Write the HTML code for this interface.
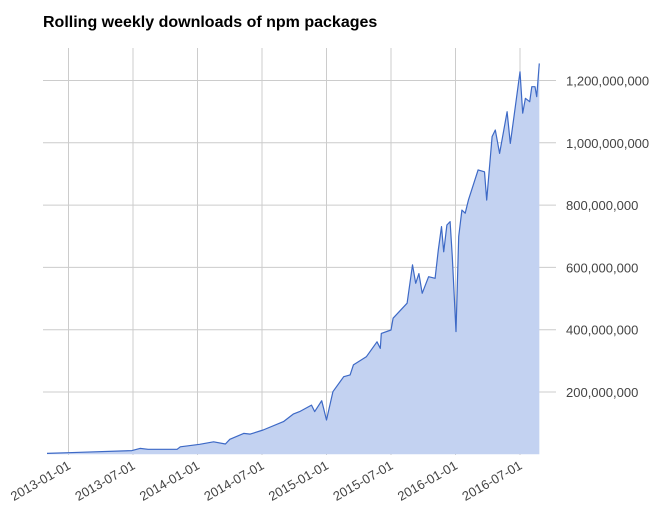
<!DOCTYPE html>
<html>
<head>
<meta charset="utf-8">
<style>
  html,body{margin:0;padding:0;background:#fff;}
  body{width:671px;height:526px;overflow:hidden;}
  svg{display:block;font-family:"Liberation Sans",Arial,sans-serif;}
</style>
</head>
<body>
<svg id="chart" width="671" height="526" viewBox="0 0 671 526" xmlns="http://www.w3.org/2000/svg">
  <text x="43" y="27" font-size="16" font-weight="bold" fill="#000">Rolling weekly downloads of npm packages</text>
  <g id="grid"></g>
  <g id="series"></g>
  <g id="yaxis"></g>
  <g id="xaxis"></g>
</svg>
<script>
// months since 2013-01-01
const months = [-2.0,0,5.9,6.65,7.4,10.1,10.4,12.2,13.5,14.6,15,16.3,16.9,18.1,20,20.9,21.5,22.6,22.9,23.55,24,24.6,25.6,26.2,26.5,27.7,28.7,29,29.1,30,30.2,31.5,32,32.3,32.6,32.9,33.5,34.1,34.4,34.7,34.9,35.2,35.5,35.7,36.05,36.3,36.6,36.9,37.2,37.7,38.1,38.7,38.9,39.4,39.7,40.1,40.8,41.1,41.4,42,42.25,42.5,42.9,43.1,43.4,43.55,43.8];
// downloads in millions
const values = [3,5,12,19,16,16,24,32,40,33,48,67,65,78,105,129,137,158,137,172,110,201,249,255,287,313,361,340,388,399,437,485,608,549,580,517,570,565,656,731,650,736,747,634,394,699,784,774,816,870,913,907,816,1020,1041,966,1100,998,1073,1228,1095,1143,1132,1180,1180,1148,1255];
const yTicks = [200,400,600,800,1000,1200];
const yTickLabels = ["200,000,000","400,000,000","600,000,000","800,000,000","1,000,000,000","1,200,000,000"];
const xTicks = [0,6,12,18,24,30,36,42];
const xTickLabels = ["2013-01-01","2013-07-01","2014-01-01","2014-07-01","2015-01-01","2015-07-01","2016-01-01","2016-07-01"];

const NS="http://www.w3.org/2000/svg";
const x = m => 68.5 + m*10.75;
const y = v => 454.3 - v*0.3115;
function mk(tag, attrs, parent){const e=document.createElementNS(NS,tag);for(const k in attrs)e.setAttribute(k,attrs[k]);parent.appendChild(e);return e;}
const grid=document.getElementById('grid'), series=document.getElementById('series'), ya=document.getElementById('yaxis'), xa=document.getElementById('xaxis');

yTicks.forEach((t,i)=>{
  const l=mk('line',{x1:43,x2:556,y1:y(t),y2:y(t),stroke:'#cccccc','stroke-width':1},grid);
  
  
  const tx=mk('text',{x:566,y:y(t)+5,'font-size':13,fill:'#444'},ya);
  tx.textContent=yTickLabels[i];
  
  
});
xTicks.forEach((t,i)=>{
  const l=mk('line',{x1:x(t),x2:x(t),y1:48,y2:455,stroke:'#cccccc','stroke-width':1},grid);
  
  
  const tx=mk('text',{x:0,y:0,'font-size':13,fill:'#444','text-anchor':'end',transform:`translate(${x(t)+3},${468}) rotate(-30)`},xa);
  tx.textContent=xTickLabels[i];
  
  
});

let pts=months.map((m,i)=>`${x(m).toFixed(1)},${y(values[i]).toFixed(1)}`);
const area=mk('polygon',{points:`${x(months[0])},${y(0)} ${pts.join(' ')} ${x(months[months.length-1])},${y(0)}`,fill:'#c3d2f1'},series);


const line=mk('polyline',{points:pts.join(' '),fill:'none',stroke:'#3d69c6','stroke-width':1.2,'stroke-linejoin':'round'},series);


</script>
</body>
</html>
